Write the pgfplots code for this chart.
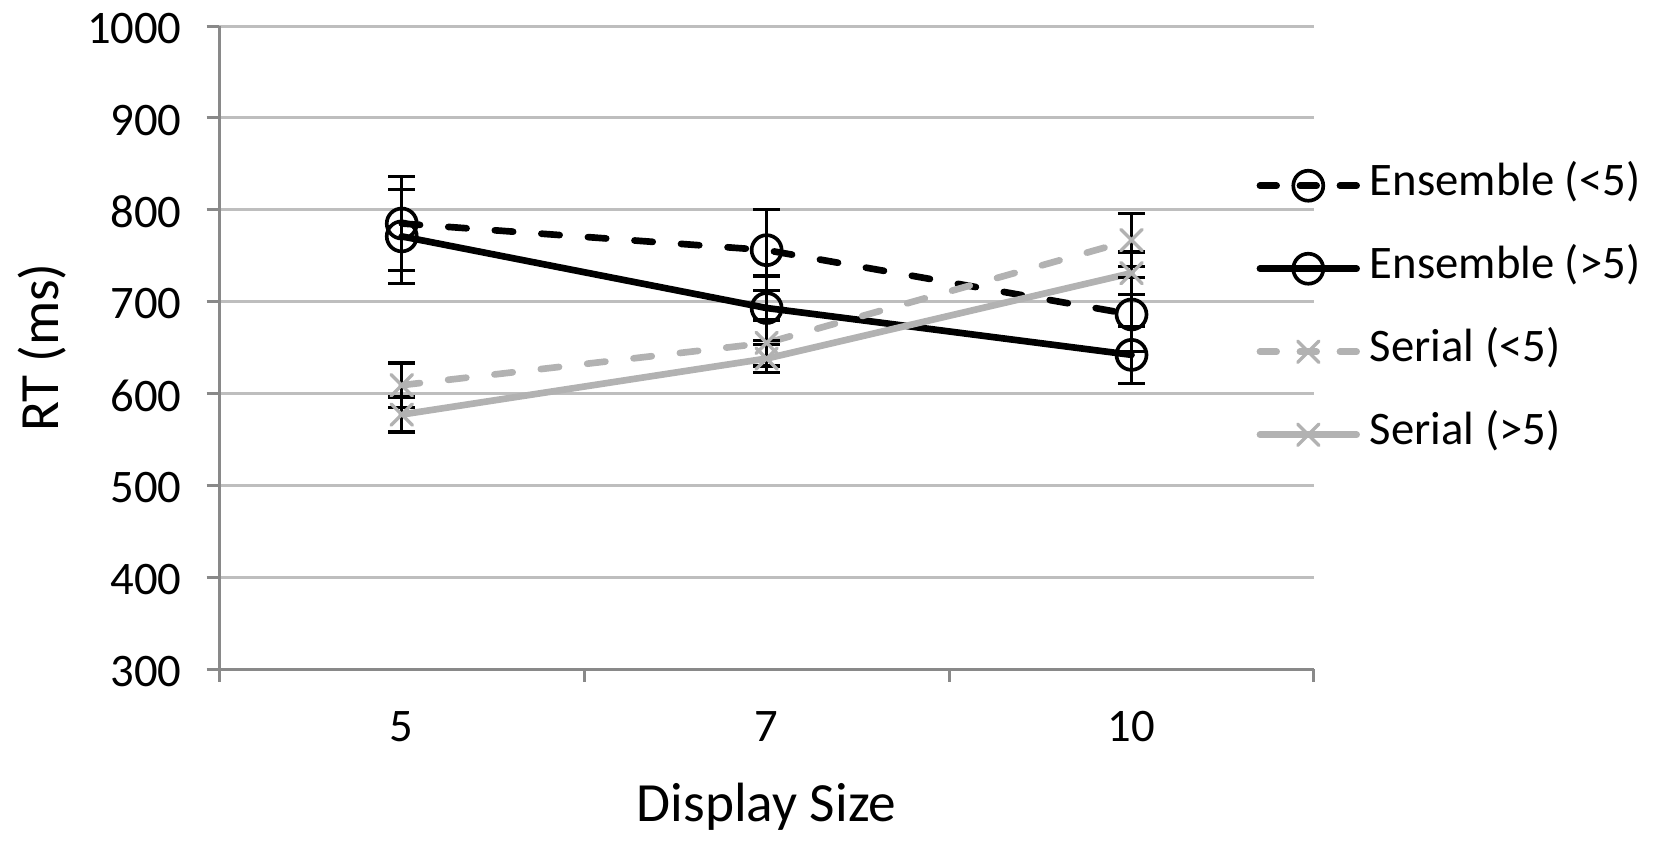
\documentclass[border=0pt]{standalone}
\usepackage{pgfplots}
\pgfplotsset{compat=1.18}
\usepackage{fontspec}
\setmainfont{Carlito}
\definecolor{axgray}{RGB}{137,137,137}
\definecolor{gridgray}{RGB}{190,190,190}
\definecolor{sergray}{RGB}{178,178,178}
\begin{document}
\begin{tikzpicture}
\path[use as bounding box] (0,0) rectangle (496.2pt,252.6pt);
\begin{axis}[
  at={(65.79pt,51.9pt)}, anchor=south west,
  scale only axis, width=328.4pt, height=192.9pt,
  xmin=-0.5, xmax=2.5, ymin=300, ymax=1000,
  axis lines*=left,
  axis line style={draw=axgray, line width=0.9pt},
  ytick={300,400,...,1000},
  ymajorgrids, grid style={draw=gridgray, line width=0.9pt},
  tick align=outside,
  major tick length=3.8pt,
  tick style={draw=axgray, line width=0.9pt},
  xtick={-0.5,0.5,1.5,2.5}, xticklabels={},
  extra x ticks={0,1,2}, extra x tick labels={5,7,10},
  extra x tick style={major tick length=0pt, tick style={draw=none}},
  /pgf/number format/assume math mode=true,
  /pgf/number format/1000 sep={},
  tick label style={font=\fontsize{14}{16}\selectfont},
  yticklabel style={anchor=east, inner sep=0pt, xshift=-7.3pt, yshift=-0.7pt},
  xticklabel style={anchor=base, inner sep=0pt, yshift=-21.7pt},
  xlabel={Display Size}, ylabel={RT (ms)},
  every axis x label/.style={at={(axis description cs:0.5,-0.237)}, anchor=base, font=\fontsize{16.6}{19}\selectfont},
  every axis y label/.style={at={(axis description cs:-0.162,0.5)}, rotate=90, anchor=center, font=\fontsize{16.6}{19}\selectfont},
  legend style={at={(axis description cs:0.947,0.558)}, anchor=west, draw=none, fill=none,
    inner sep=0pt, row sep=12.9pt, column sep=3pt,
    nodes={inner sep=0pt, text height=9pt, text depth=3pt},
    font=\fontsize{14}{16}\selectfont},
  legend cell align=left,
  legend image code/.code={\draw[mark repeat=2, mark phase=2, #1] plot coordinates {(1pt,0pt) (15.5pt,0pt) (30pt,0pt)};},
  mark size=4.5pt,
]
% lines
\addplot[black, line width=2pt, dash pattern=on 5.5pt off 8.5pt, line cap=round,
  mark=o, mark options={solid, line width=1.1pt},
  legend image post style={dash pattern=on 5pt off 7pt}] coordinates {(0,785) (1,756) (2,686)};
\addlegendentry{Ensemble (<5)}
\addplot[black, line width=2pt, line cap=round, mark=o, mark options={solid, line width=1.1pt}]
  coordinates {(0,771) (1,693) (2,642)};
\addlegendentry{Ensemble (>5)}
\addplot[sergray, line width=2pt, dash pattern=on 5.5pt off 8.5pt, line cap=round,
  mark=x, mark options={solid, line width=1pt},
  legend image post style={dash pattern=on 5pt off 7pt}] coordinates {(0,609) (1,655) (2,767)};
\addlegendentry{Serial (<5)}
\addplot[sergray, line width=2pt, line cap=round, mark=x, mark options={solid, line width=1pt}]
  coordinates {(0,577) (1,638) (2,731)};
\addlegendentry{Serial (>5)}
% error bars
\pgfplotsset{ebar/.style={forget plot, draw=none, mark=none,
  error bars/.cd, y dir=both, y explicit,
  error bar style={draw=black, line width=1pt, solid},
  error mark options={rotate=90, mark size=4pt, line width=1pt, draw=black}}}
\addplot[ebar] coordinates {(0,785) +- (0,51) (1,756) +- (0,44) (2,686) +- (0,40)};
\addplot[ebar] coordinates {(0,771) +- (0,51) (1,693) +- (0,35) (2,642) +- (0,31)};
\addplot[ebar] coordinates {(0,609) +- (0,24) (1,655) +- (0,25) (2,767) +- (0,29)};
\addplot[ebar] coordinates {(0,577) +- (0,19) (1,638) +- (0,15) (2,731) +- (0,23)};
\end{axis}
\end{tikzpicture}
\end{document}
